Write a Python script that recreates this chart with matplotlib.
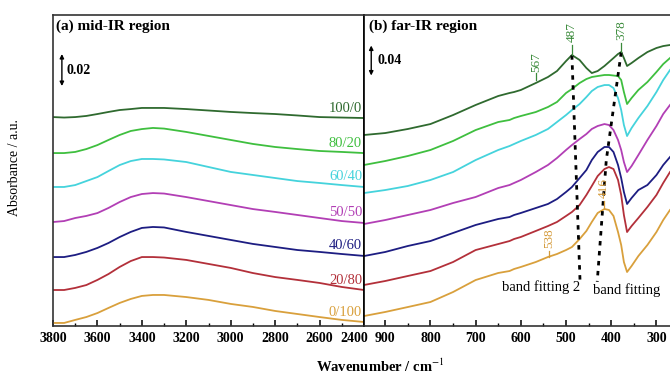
import matplotlib
matplotlib.use("Agg")
import matplotlib.pyplot as plt
from matplotlib.ticker import MultipleLocator

plt.rcParams["font.family"] = ["Liberation Serif", "DejaVu Serif"]
plt.rcParams["mathtext.fontset"] = "stix"

# absorbance values in mAbs
mid_wn = [3800, 3750, 3700, 3650, 3600, 3550, 3500, 3450, 3400, 3350,
          3300, 3200, 3100, 3000, 2900, 2800, 2700, 2600, 2500, 2400]
mid_100_0 = [130.6, 130.3, 130.6, 131.3, 132.5, 133.8, 135.0, 135.6, 136.3, 136.3,
             136.3, 135.6, 134.7, 133.8, 133.1, 132.5, 131.6, 130.6, 130.3, 130.0]
mid_80_20 = [108.1, 108.1, 108.8, 110.6, 113.1, 116.3, 119.4, 121.9, 123.1, 123.8,
             123.4, 121.3, 118.8, 116.3, 113.8, 111.9, 110.6, 109.4, 108.8, 108.1]
mid_60_40 = [86.9, 86.9, 88.1, 90.6, 93.1, 96.9, 100.6, 103.1, 104.4, 104.4,
             104.1, 102.5, 99.4, 96.3, 94.4, 92.5, 90.6, 89.4, 88.1, 86.9]
mid_50_50 = [65.0, 65.6, 67.5, 68.8, 70.6, 73.8, 77.5, 80.6, 82.5, 83.1,
             82.8, 80.6, 78.1, 75.6, 73.1, 71.3, 69.4, 67.5, 65.6, 64.4]
mid_40_60 = [43.1, 43.1, 44.4, 46.3, 48.8, 51.9, 55.6, 58.8, 61.3, 61.9,
             61.6, 58.8, 56.3, 53.8, 51.3, 49.4, 47.5, 46.3, 45.0, 43.8]
mid_20_80 = [22.5, 22.5, 23.8, 25.6, 28.8, 32.5, 36.9, 40.6, 43.1, 43.1,
             42.8, 41.3, 38.8, 36.3, 33.1, 30.6, 28.8, 26.9, 24.4, 22.5]
mid_0_100 = [1.9, 1.9, 3.8, 5.6, 8.1, 11.3, 14.4, 16.9, 18.8, 19.4,
             19.4, 18.1, 16.3, 13.8, 11.9, 9.4, 7.5, 5.6, 3.8, 2.5]

far_wn = [947, 900, 850, 800, 750, 700, 650, 625, 615, 600, 567, 540, 520, 500, 487, 470,
          455, 443, 430, 415, 405, 395, 385, 378, 372, 365, 355, 340, 320, 300, 285, 270]
far_100_0 = [254.7, 257.3, 262.7, 269.3, 281.3, 294.7, 306.7, 310.7, 312.0, 314.7, 324.0,
             332.0, 340.0, 353.3, 361.3, 354.7, 344.0, 337.3, 340.0, 346.7, 352.0, 357.3,
             362.7, 365.3, 357.3, 346.7, 350.7, 357.3, 365.3, 370.7, 373.3, 374.7]
far_80_20 = [214.7, 220.0, 226.7, 234.7, 246.7, 261.3, 272.0, 274.7, 277.3, 280.0, 285.3,
             292.0, 298.7, 310.7, 316.0, 324.0, 329.3, 332.0, 333.3, 334.7, 334.7, 334.0,
             333.3, 328.0, 312.0, 296.0, 304.0, 314.7, 325.3, 338.7, 349.3, 357.3]
far_60_40 = [177.3, 181.3, 186.7, 194.7, 205.3, 221.3, 234.7, 240.0, 242.7, 246.7, 254.7,
             262.7, 272.0, 281.3, 288.0, 296.0, 305.3, 313.3, 318.7, 321.3, 321.3, 317.3,
             304.0, 288.0, 268.0, 253.3, 264.0, 277.3, 293.3, 312.0, 328.0, 341.3]
far_50_50 = [136.0, 141.3, 148.0, 154.7, 164.0, 172.0, 184.0, 188.0, 190.7, 194.7, 205.3,
             214.7, 224.0, 234.7, 241.3, 249.3, 256.0, 262.7, 266.7, 269.3, 268.0, 261.3,
             248.0, 234.7, 218.7, 205.3, 213.3, 228.0, 248.0, 266.7, 282.7, 294.7]
far_40_60 = [93.3, 98.7, 106.7, 113.3, 124.0, 134.7, 142.7, 145.3, 148.0, 150.7, 157.3,
             162.7, 169.3, 178.7, 185.3, 197.3, 208.0, 221.3, 232.0, 238.7, 238.7, 232.0,
             214.7, 197.3, 178.7, 162.7, 170.7, 181.3, 188.0, 201.3, 214.7, 225.3]
far_20_80 = [54.7, 60.0, 66.7, 73.3, 85.3, 101.3, 109.3, 113.3, 116.0, 118.7, 126.7,
             133.3, 138.7, 146.7, 152.0, 161.3, 174.7, 186.7, 200.0, 209.3, 212.0, 209.3,
             194.7, 174.7, 148.0, 125.3, 133.3, 144.0, 158.7, 174.7, 190.7, 205.3]
far_0_100 = [13.3, 18.7, 25.3, 32.0, 45.3, 61.3, 70.7, 73.3, 76.0, 78.7, 85.3,
             92.0, 96.0, 101.3, 105.3, 116.0, 126.7, 138.7, 150.7, 156.0, 154.7, 146.7,
             125.3, 108.0, 85.3, 72.0, 80.0, 93.3, 108.0, 125.3, 141.3, 154.7]

ratios = ["100/0", "80/20", "60/40", "50/50", "40/60", "20/80", "0/100"]

mid_ticks = [3800, 3600, 3400, 3200, 3000, 2800, 2600, 2400]

# band fitting guide lines (wavenumber, mAbs)
fit2_wn = [487, 469]
fit2_y = [361, 59]
fit1_wn = [378, 411, 431]
fit1_y = [365, 221, 59]

colors = ["#2f6a2f", "#3fbf3f", "#45d3dc", "#b23fb5", "#1d1d82", "#b3303a", "#d9a03c"]
green_txt = "#3a8a3a"
gold_txt = "#d49a3a"

mid_sets = [mid_100_0, mid_80_20, mid_60_40, mid_50_50, mid_40_60, mid_20_80, mid_0_100]
far_sets = [far_100_0, far_80_20, far_60_40, far_50_50, far_40_60, far_20_80, far_0_100]

fig = plt.figure(figsize=(6.7, 3.76), dpi=100)
ax1 = fig.add_axes([53 / 670, 50 / 376, 311 / 670, 311 / 376])
ax2 = fig.add_axes([364 / 670, 50 / 376, 306 / 670, 311 / 376])

for ys, c, lab in zip(mid_sets, colors, ratios):
    ax1.plot(mid_wn, ys, color=c, lw=1.3)
    ax1.annotate(lab, xy=(mid_wn[-1], ys[-1]), xytext=(-2, 10),
                 textcoords="offset pixels", ha="right", va="center",
                 color=c, fontsize=10.5)

for ys, c in zip(far_sets, colors):
    ax2.plot(far_wn, ys, color=c, lw=1.3)

ax2.plot(fit2_wn, fit2_y, color="k", lw=2.0, ls=(0, (1.6, 2.0)))
ax2.plot(fit1_wn, fit1_y, color="k", lw=2.0, ls=(0, (1.6, 2.0)))
ax2.text(556, 52, "band fitting 2", ha="center", va="center", fontsize=10.5)
ax2.text(367, 48, "band fitting", ha="center", va="center", fontsize=10.5)

# peak markers
for wn, ty, y0, y1, c in [(567, 352, 337, 328, green_txt),
                          (487, 392, 375, 362, green_txt),
                          (378, 394, 377, 366, green_txt),
                          (538, 117, 100, 92, gold_txt),
                          (416, 184, 167, 158, gold_txt)]:
    ax2.text(wn, ty, str(wn), rotation=90, ha="center", va="center",
             color=c, fontsize=9.5)
    ax2.plot([wn, wn], [y0, y1], color=c, lw=0.9)

# scale bars
arrow = dict(arrowstyle="<|-|>", color="k", lw=1.0, mutation_scale=6,
             shrinkA=0, shrinkB=0)
ax1.annotate("", xy=(3760, 170), xytext=(3760, 150), arrowprops=arrow)
ax1.text(3738, 160, "0.02", ha="left", va="center", fontsize=10, fontweight="bold")
ax2.annotate("", xy=(931, 374), xytext=(931, 334), arrowprops=arrow)
ax2.text(918, 354, "0.04", ha="left", va="center", fontsize=10, fontweight="bold")

ax1.set_xlim(3800, 2400)
ax1.set_ylim(0, 194.4)
ax2.set_xlim(947, 270)
ax2.set_ylim(0, 414.7)

ax1.set_xticks(mid_ticks, [str(t) for t in mid_ticks[:-1]] + [""])
ax1.xaxis.set_minor_locator(MultipleLocator(100))
ax2.xaxis.set_major_locator(MultipleLocator(100))
ax2.xaxis.set_minor_locator(MultipleLocator(50))
# last mid-IR label sits a little left so it clears the "900"
ax1.annotate(str(mid_ticks[-1]), xy=(mid_ticks[-1], 0), xytext=(-10, -6),
             textcoords="offset pixels", ha="center", va="top",
             fontsize=10, fontweight="bold")

for ax in (ax1, ax2):
    ax.set_yticks([])
    ax.tick_params(axis="x", which="major", direction="in", length=4, width=1.1,
                   labelsize=10, pad=4)
    ax.tick_params(axis="x", which="minor", direction="in", length=2.5, width=1)
    for lbl in ax.get_xticklabels():
        lbl.set_fontweight("bold")
    for sp in ax.spines.values():
        sp.set_linewidth(1.2)
        sp.set_color("#333333")
ax2.spines["right"].set_visible(False)
ax2.spines["left"].set_color("k")
ax1.spines["right"].set_color("k")

ax1.text(0.01, 0.985, "(a) mid-IR region", transform=ax1.transAxes, ha="left",
         va="top", fontsize=11, fontweight="bold")
ax2.text(0.015, 0.985, "(b) far-IR region", transform=ax2.transAxes, ha="left",
         va="top", fontsize=11, fontweight="bold")

fig.text(380 / 670, 1 - 366 / 376, "Wavenumber / cm$^{-1}$", ha="center",
         va="center", fontsize=10.5, fontweight="bold")
fig.text(15 / 670, 1 - 168 / 376, "Absorbance / a.u.", rotation=90, ha="center",
         va="center", fontsize=10)

fig.savefig("out.png", dpi=100)
